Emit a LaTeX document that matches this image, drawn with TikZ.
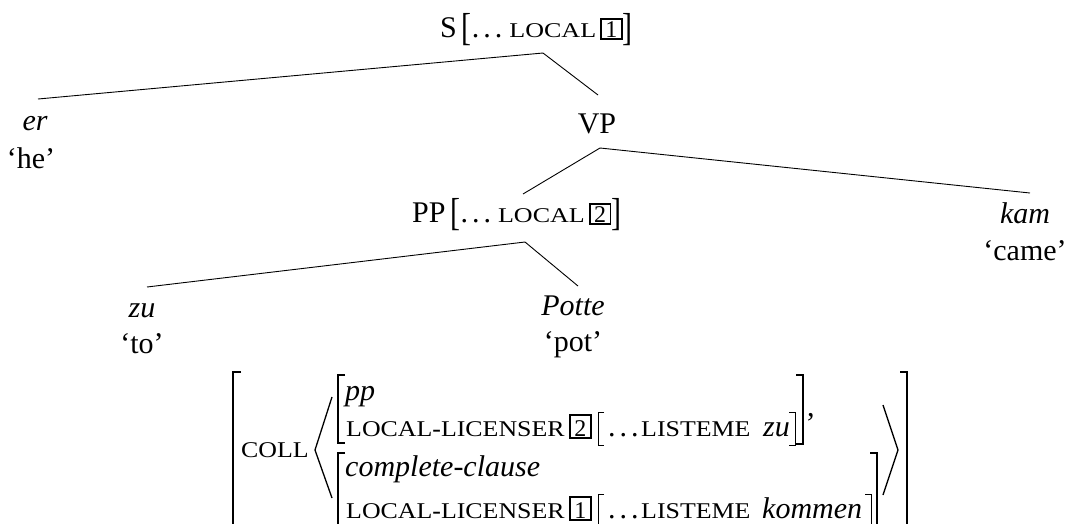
\documentclass[tikz,border=0pt]{standalone}
\usepackage{fontspec}
\setmainfont{Liberation Serif}
\usepackage{graphicx}
\newcommand\smc[1]{\scalebox{1.15}[1]{\fontsize{22.5}{22.5}\selectfont #1}}
\newcommand\smct[1]{\scalebox{1.24}[1]{\fontsize{21}{21}\selectfont #1}}
\newcommand\boxnum[1]{{\fboxsep=0pt\fboxrule=1.7pt\fbox{\makebox[19pt]{\rule[-1pt]{0pt}{18.5pt}\fontsize{24}{24}\selectfont #1}}}}
\newcommand\boxnumA[1]{{\fboxsep=0pt\fboxrule=1.7pt\fbox{\makebox[19pt]{\rule[-1pt]{0pt}{21.5pt}\fontsize{24}{24}\selectfont #1}}}}
\newcommand\lbrk{\raisebox{-3pt}{\scalebox{1}[1.3]{[}}}
\newcommand\rbrk{\raisebox{-3pt}{\scalebox{1}[1.3]{]}}}
\newcommand\sdots{.\hspace{4pt}.\hspace{4pt}.}
\begin{document}
\begin{tikzpicture}[x=1pt,y=-1pt,
  every node/.style={inner sep=0pt, font=\fontsize{30}{36}\selectfont},
  branch/.style={line width=0.9pt},
  brk/.style={line width=1.3pt},
  sbrk/.style={line width=1.0pt}]
\useasboundingbox (0,0) rectangle (1069,523);
\clip (0,0) rectangle (1069,523);
% tree labels
\node[anchor=base west] (S) at (440,37) {S\hspace{5pt}\lbrk\sdots\hspace{7pt}\smct{LOCAL}\hspace{4pt}\boxnum{1}\rbrk};
\node[anchor=base] (er) at (35,130) {\itshape er};
\node[anchor=base] (he) at (31,168) {‘he’};
\node[anchor=base] (VP) at (597,133) {VP};
\node[anchor=base west] (PP) at (412,222) {PP\hspace{5pt}\lbrk\sdots\hspace{7pt}\smct{LOCAL}\hspace{4pt}\boxnum{2}\rbrk};
\node[anchor=base] (kam) at (1025,223) {\itshape kam};
\node[anchor=base] (came) at (1025,260) {‘came’};
\node[anchor=base] (zu) at (142,317) {\itshape zu};
\node[anchor=base] (to) at (142,353) {‘to’};
\node[anchor=base] (Potte) at (573,315) {\itshape Potte};
\node[anchor=base] (pot) at (573,351) {‘pot’};
% attachment points
\coordinate (Sa) at (543,53);
\coordinate (era) at (38,99);
\coordinate (VPt) at (598,95);
\coordinate (VPa) at (600,148);
\coordinate (PPt) at (523,194);
\coordinate (kamt) at (1030,193);
\coordinate (PPa) at (525,242);
\coordinate (zut) at (147,287);
\coordinate (Pottet) at (578,286);
\draw[branch] (era) -- (Sa) -- (VPt);
\draw[branch] (PPt) -- (VPa) -- (kamt);
\draw[branch] (zut) -- (PPa) -- (Pottet);
% AVM text
\node[anchor=base west] (coll) at (241,457) {\smc{COLL}};
\node[anchor=base west] (pp) at (345,400) {\itshape pp};
\node[anchor=base west] (ll1) at (346,436) {\smc{LOCAL\textbf{-}LICENSER}};
\node[anchor=base west] (b2) at (569,436) {\boxnumA{2}};
\node[anchor=base west] (d1) at (608,436) {\sdots};
\node[anchor=base west] (lis1) at (641,436) {\smc{LISTEME}};
\node[anchor=base west] (zuw) at (763,436) {\itshape zu};
\node[anchor=base west] (comma) at (807,416) {,};
\node[anchor=base west] (cc) at (345,476) {\itshape complete-clause};
\node[anchor=base west] (ll2) at (346,518) {\smc{LOCAL\textbf{-}LICENSER}};
\node[anchor=base west] (b1) at (569,518) {\boxnumA{1}};
\node[anchor=base west] (d2) at (608,518) {\sdots};
\node[anchor=base west] (lis2) at (641,518) {\smc{LISTEME}};
\node[anchor=base west] (kommen) at (762,518) {\itshape kommen};
% AVM brackets
\draw[brk] (241,372) -| (233,530);
\draw[brk] (900,372) -| (907,530);
\draw[brk] (332,397) -- (315,450) -- (332,498);
\draw[brk] (883,405) -- (898,450) -- (883,495);
\draw[brk] (345,375) -| (338,443) -- (345,443);
\draw[brk] (796,375) -| (803,444) -- (796,444);
\draw[brk] (345,453) -| (338,530);
\draw[brk] (870,453) -| (877,530);
\draw[sbrk] (604,412) -| (598,445) -- (604,445);
\draw[sbrk] (789,412) -| (795,445) -- (789,445);
\draw[sbrk] (604,494) -| (598,527);
\draw[sbrk] (865,494) -| (871,527);
\end{tikzpicture}
\end{document}
